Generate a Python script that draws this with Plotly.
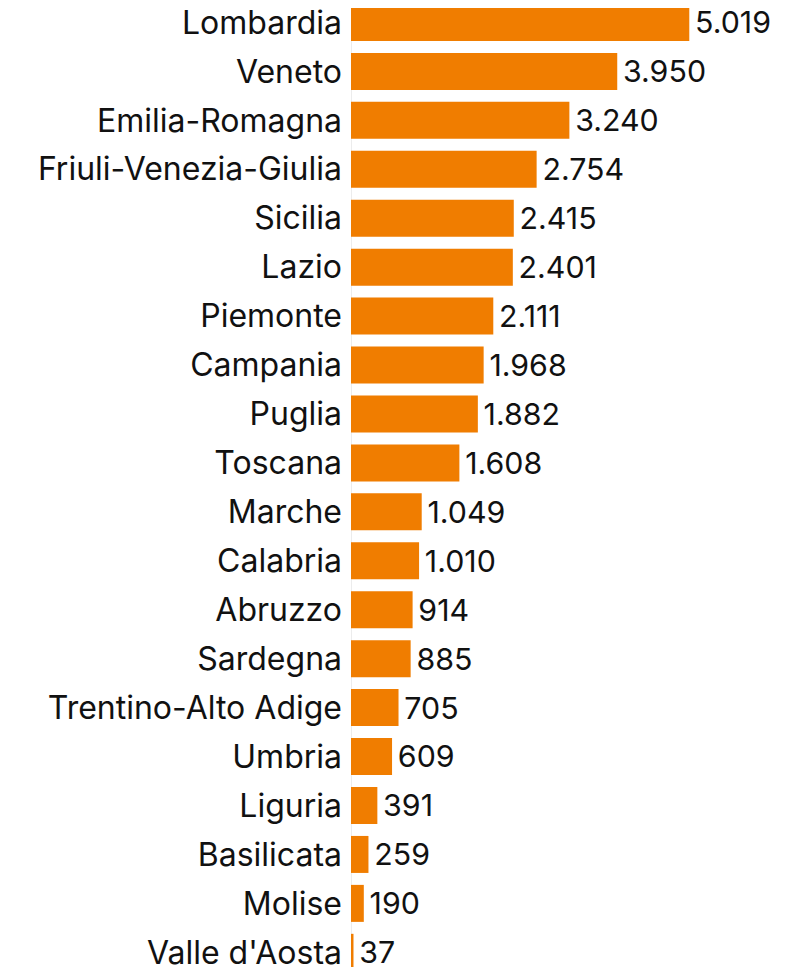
import plotly.graph_objects as go

# regions listed bottom to top
regions = [
    "Valle d'Aosta", "Molise", "Basilicata", "Liguria", "Umbria",
    "Trentino-Alto Adige", "Sardegna", "Abruzzo", "Calabria", "Marche",
    "Toscana", "Puglia", "Campania", "Piemonte", "Lazio",
    "Sicilia", "Friuli-Venezia-Giulia", "Emilia-Romagna", "Veneto", "Lombardia",
]
values = [
    37, 190, 259, 391, 609,
    705, 885, 914, 1010, 1049,
    1608, 1882, 1968, 2111, 2401,
    2415, 2754, 3240, 3950, 5019,
]

fig = go.Figure()
fig.add_trace(go.Bar(
    x=values,
    y=regions,
    orientation="h",
    marker=dict(color="#F07D00", line=dict(width=0)),
    texttemplate="\u200a%{x:,.0f}",
    textposition="outside",
    textfont=dict(size=32, color="#111111"),
    cliponaxis=False,
))

# page body has an 8px margin, so the figure is sized 8px smaller
fig.update_layout(
    width=795, height=959,
    margin=dict(l=343, r=0, t=0, b=0),
    plot_bgcolor="white", paper_bgcolor="white",
    separators=",.",
    bargap=0.244,
    showlegend=False,
    font=dict(family="Inter", size=32, color="#111111"),
    xaxis=dict(range=[0, 6706], showgrid=False, showticklabels=False,
               zeroline=True, zerolinecolor="#ececec", zerolinewidth=1),
    yaxis=dict(range=[-0.30, 19.295], showgrid=False, ticks="",
               ticklabelstandoff=8, automargin=False),
)

fig.write_html("out.html")
